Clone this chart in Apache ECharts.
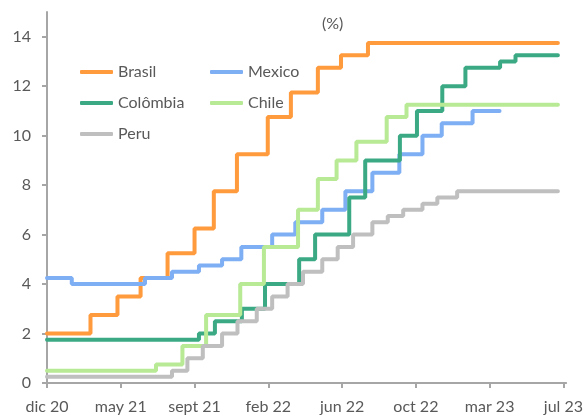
<!DOCTYPE html>
<html>
<head>
<meta charset="utf-8">
<script src="https://cdn.jsdelivr.net/npm/echarts@6/dist/echarts.min.js"></script>
<style>
html,body{margin:0;padding:0;background:#fff;}
#chart{width:586px;height:415px;}
</style>
</head>
<body>
<div id="chart"></div>
<script>
// ---- Data ----
const seriesNames = ['Brasil', 'Mexico', 'Colômbia', 'Chile', 'Peru'];

const brasilDates = ['2020-12-28','2021-03-17','2021-05-05','2021-06-16','2021-08-04','2021-09-22','2021-10-27','2021-12-08','2022-02-02','2022-03-16','2022-05-04','2022-06-15','2022-08-03','2023-07-14'];
const brasilRates = [2.00, 2.75, 3.50, 4.25, 5.25, 6.25, 7.75, 9.25, 10.75, 11.75, 12.75, 13.25, 13.75, 13.75];

const mexicoDates = ['2020-12-28','2021-02-11','2021-06-24','2021-08-12','2021-09-30','2021-11-11','2021-12-16','2022-02-10','2022-03-24','2022-05-12','2022-06-23','2022-08-11','2022-09-29','2022-11-10','2022-12-15','2023-02-09','2023-03-30'];
const mexicoRates = [4.25, 4.00, 4.25, 4.50, 4.75, 5.00, 5.50, 6.00, 6.50, 7.00, 7.75, 8.50, 9.25, 10.00, 10.50, 11.00, 11.00];

const colombiaDates = ['2020-12-28','2021-09-30','2021-10-29','2021-12-17','2022-01-28','2022-03-31','2022-04-29','2022-06-30','2022-07-29','2022-09-30','2022-10-31','2022-12-16','2023-01-27','2023-03-31','2023-04-28','2023-07-14'];
const colombiaRates = [1.75, 2.00, 2.50, 3.00, 4.00, 5.00, 6.00, 7.50, 9.00, 10.00, 11.00, 12.00, 12.75, 13.00, 13.25, 13.25];

const chileDates = ['2020-12-28','2021-07-14','2021-08-31','2021-10-13','2021-12-14','2022-01-26','2022-03-29','2022-05-04','2022-06-07','2022-07-13','2022-09-06','2022-10-12','2023-07-14'];
const chileRates = [0.50, 0.75, 1.50, 2.75, 4.00, 5.50, 7.00, 8.25, 9.00, 9.75, 10.75, 11.25, 11.25];

const peruDates = ['2020-12-28','2021-08-12','2021-09-09','2021-10-07','2021-11-11','2021-12-09','2022-01-13','2022-02-10','2022-03-10','2022-04-07','2022-05-12','2022-06-09','2022-07-07','2022-08-11','2022-09-08','2022-10-06','2022-11-10','2022-12-07','2023-01-12','2023-07-14'];
const peruRates = [0.25, 0.50, 1.00, 1.50, 2.00, 2.50, 3.00, 3.50, 4.00, 4.50, 5.00, 5.50, 6.00, 6.50, 6.75, 7.00, 7.25, 7.50, 7.75, 7.75];

const xTickLabels = ['dic 20', 'may 21', 'sept 21', 'feb 22', 'jun 22', 'oct 22', 'mar 23', 'jul 23'];
const yTickValues = [0, 2, 4, 6, 8, 10, 12, 14];
const unitLabel = '(%)';

// ---- Helpers ----
const BASE_DATE = Date.UTC(2020, 11, 28);
const TICK_DAYS = 134;
function dayIndex(s) {
  const p = s.split('-').map(Number);
  return (Date.UTC(p[0], p[1] - 1, p[2]) - BASE_DATE) / 86400000;
}
function pairs(dates, rates) {
  return dates.map((d, i) => [dayIndex(d), rates[i]]);
}
const xTickValues = xTickLabels.map((_, i) => i * TICK_DAYS);

const colors = ['#FF9A3D', '#7EAEF3', '#3BAA84', '#B8E994', '#BFBFBF'];
const allData = [
  pairs(brasilDates, brasilRates),
  pairs(mexicoDates, mexicoRates),
  pairs(colombiaDates, colombiaRates),
  pairs(chileDates, chileRates),
  pairs(peruDates, peruRates)
];

const FONT = 'Lato, "Open Sans", sans-serif';
const TXT = '#595959';
const AXIS = '#A6A6A6';

const legendCommon = {
  orient: 'vertical',
  icon: 'roundRect',
  itemWidth: 33,
  itemHeight: 4,
  itemGap: 15,
  textStyle: { fontFamily: FONT, fontSize: 16, color: TXT, lineHeight: 16 },
  selectedMode: false
};

const chart = echarts.init(document.getElementById('chart'), null, { renderer: 'canvas' });
chart.setOption({
  animation: false,
  backgroundColor: '#fff',
  title: {
    text: unitLabel,
    left: 317,
    top: 11,
    textStyle: { fontFamily: FONT, fontSize: 16, fontWeight: 'normal', color: TXT }
  },
  legend: [
    Object.assign({ left: 75, top: 59, itemGap: 15, data: ['Brasil', 'Colômbia', 'Peru'] }, legendCommon),
    Object.assign({ left: 205, top: 59, data: ['Mexico', 'Chile'] }, legendCommon)
  ],
  grid: { left: 47, right: 19, top: 12, bottom: 31, containLabel: false },
  xAxis: {
    type: 'value',
    min: 0,
    max: 943,
    splitLine: { show: false },
    axisLine: { show: true, lineStyle: { color: AXIS, width: 2 } },
    axisTick: { show: true, customValues: xTickValues, length: 5, lineStyle: { color: AXIS, width: 2 } },
    axisLabel: {
      customValues: xTickValues,
      margin: 16,
      fontFamily: FONT, fontSize: 16, color: TXT,
      formatter: v => xTickLabels[Math.round(v / TICK_DAYS)] || ''
    }
  },
  yAxis: {
    type: 'value',
    min: 0,
    max: 15,
    splitLine: { show: false },
    axisLine: { show: true, lineStyle: { color: AXIS, width: 2 } },
    axisTick: { show: true, customValues: yTickValues, length: 5, lineStyle: { color: AXIS, width: 2 } },
    axisLabel: {
      customValues: yTickValues,
      margin: 16,
      fontFamily: FONT, fontSize: 16, color: TXT
    }
  },
  series: seriesNames.map((name, i) => ({
    name: name,
    type: 'line',
    step: 'end',
    data: allData[i],
    showSymbol: false,
    symbol: 'none',
    color: colors[i],
    lineStyle: { width: 4, color: colors[i], cap: 'round' },
    z: 2 + i
  }))
});
</script>
</body>
</html>
